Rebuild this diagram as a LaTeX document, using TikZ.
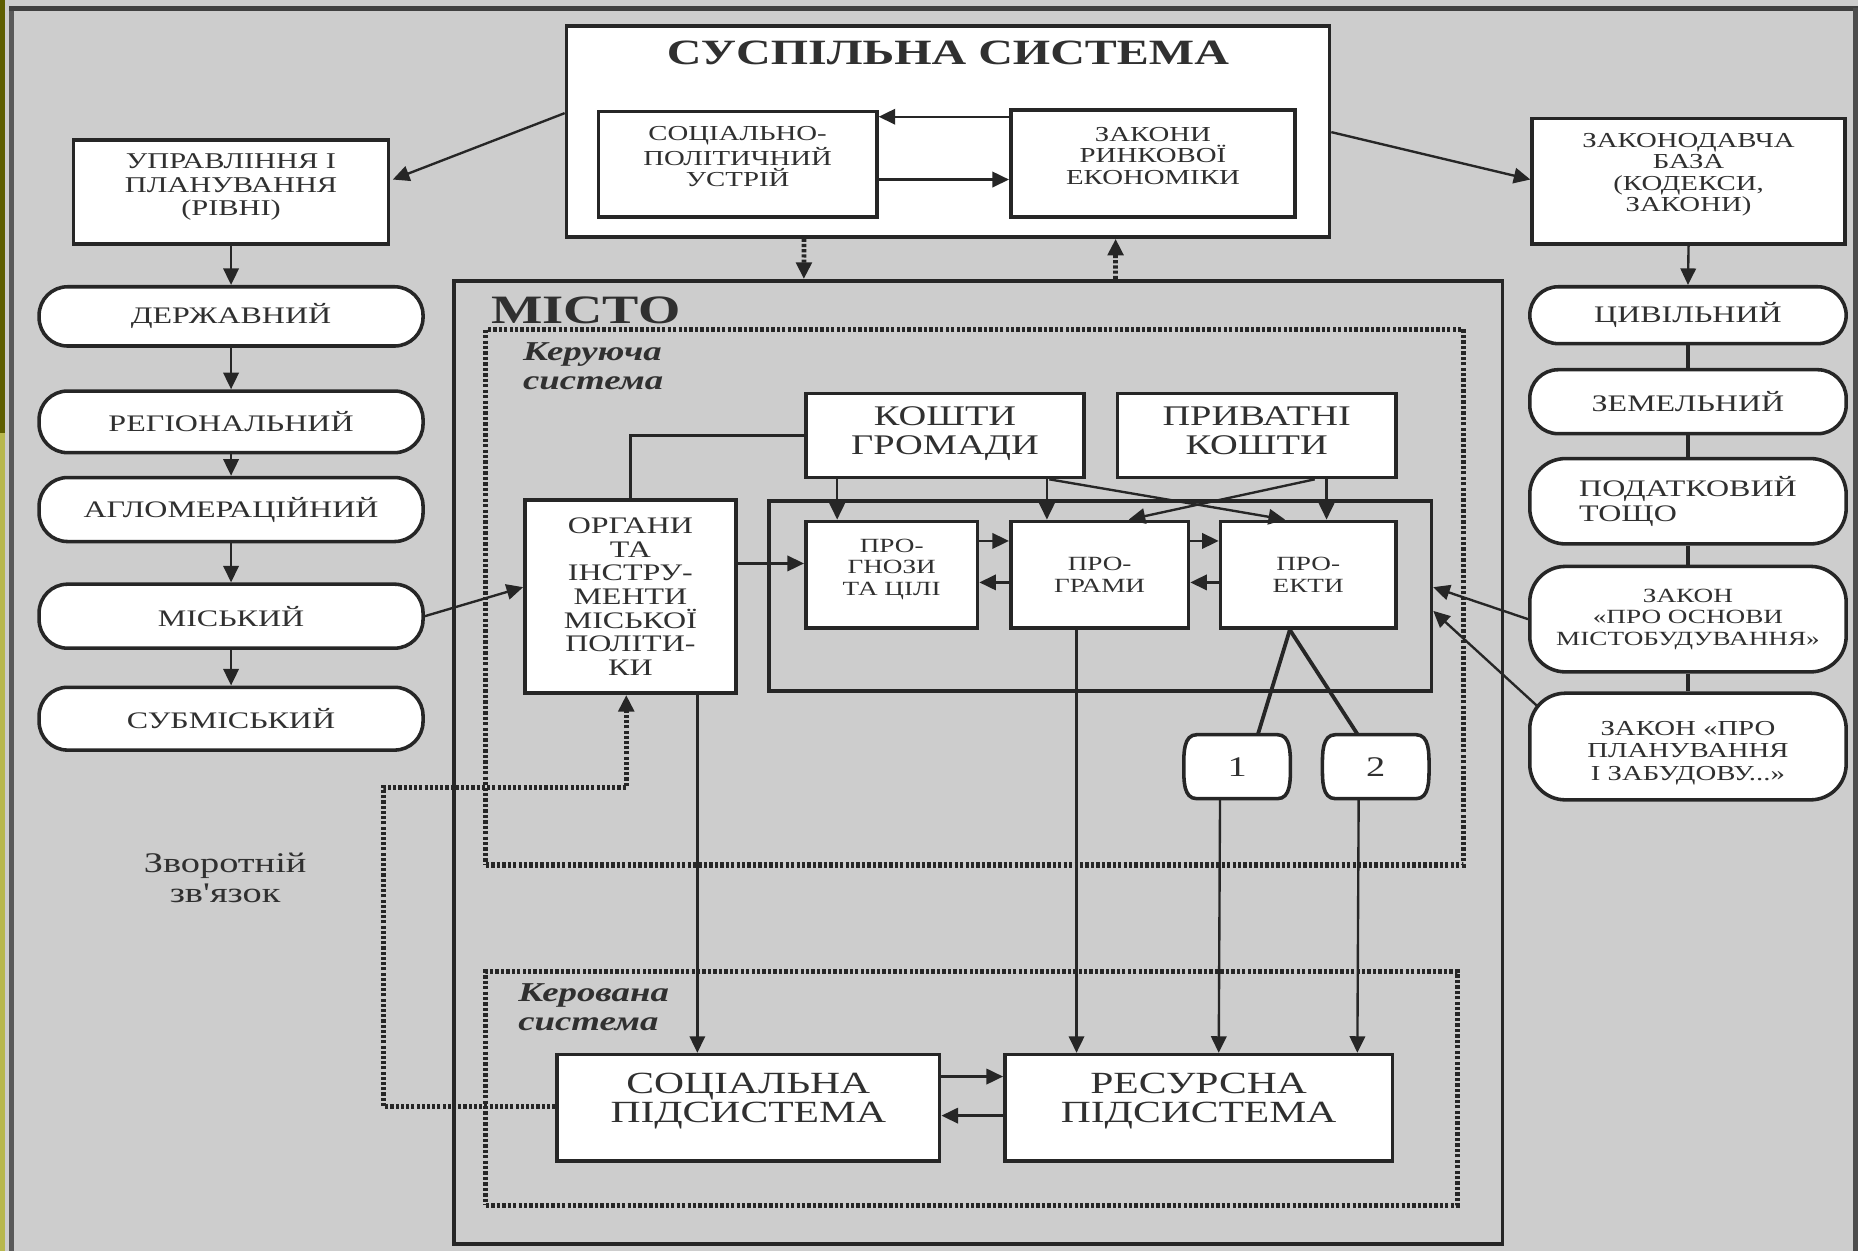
\documentclass[tikz,border=0pt]{standalone}
\usepackage{fontspec}
\setmainfont{Liberation Serif}[FakeStretch=1.35]
\usetikzlibrary{arrows.meta,calc}
\definecolor{bg}{HTML}{CDCDCD}
\definecolor{lc}{HTML}{262626}
\definecolor{tc}{HTML}{303030}
\definecolor{olivedark}{HTML}{5E5E00}
\definecolor{olivelight}{HTML}{B8B84E}
\newcommand\myfs[2]{\fontsize{#1}{#2}\selectfont}
\tikzset{
  sz/.style 2 args={minimum width=#1*0.5pt, minimum height=#2*0.5pt},
  dp/.style={text depth=#1},
  box/.style={draw=lc, line width=1.5pt, fill=white, inner sep=0pt, align=center, text=tc},
  pill/.style={draw=lc, line width=1.5pt, fill=white, rounded corners=12pt, inner sep=0pt, align=center, text=tc},
  tallpill/.style={pill, rounded corners=15pt},
  grpbox/.style={draw=lc, line width=1.5pt, fill=bg, inner sep=0pt},
  frame/.style={draw=lc, line width=1.6pt, inner sep=0pt},
  dotframe/.style={draw=lc, line width=2.2pt, dash pattern=on 1.4pt off 0.9pt, inner sep=0pt},
  arr/.style={draw=lc, line width=1pt, -{Triangle[length=7pt,width=6.5pt]}},
  plain/.style={draw=lc, line width=1.5pt},
  thickline/.style={draw=lc, line width=1.6pt},
  darr/.style={draw=lc, line width=2pt, dash pattern=on 1.3pt off 0.9pt, -{Triangle[length=7pt,width=6.5pt]}},
  lbl/.style={inner sep=0pt, text=tc}
}
\begin{document}
\begin{tikzpicture}[x=0.5pt,y=-0.5pt]
% background
\fill[bg] (0,0) rectangle (1568,1056);
\useasboundingbox (0,0) rectangle (1568,1056);
\fill[olivedark] (0,0) rectangle (4.5,365);
\fill[olivelight] (0,365) rectangle (4.5,1056);
\draw[line width=2pt, draw=black!65] (10,7) -- (10,1056);
\draw[line width=2pt, draw=black!75] (8,7) -- (1568,7);
\draw[line width=2pt, draw=black!70] (1566,7) -- (1566,1056);

% top society box
\node[box, sz={644}{178}] (soc) at (800,111) {};
\node[lbl, font=\bfseries\myfs{15}{15}] (soct) at (800,45) {СУСПІЛЬНА СИСТЕМА};
\node[box, sz={235}{89}, dp=6.5pt, font=\myfs{9}{9}] (sp) at (622.5,138.5) {СОЦІАЛЬНО-\\ПОЛІТИЧНИЙ\\УСТРІЙ};
\node[box, sz={240}{90}, dp=6.5pt, font=\myfs{9}{9}] (zr) at (973,138) {ЗАКОНИ\\РИНКОВОЇ\\ЕКОНОМІКИ};
\draw[arr] ($(zr.north west)+(0,7)$) -- ($(sp.north east)+(0,6)$);
\draw[arr] ($(sp.north east)+(-3,59)$) -- ($(zr.north west)+(0,60)$);

% left column
\node[box, sz={266}{88}, dp=6pt, font=\myfs{9.5}{10}] (upr) at (195,162) {УПРАВЛІННЯ І\\ПЛАНУВАННЯ\\(РІВНІ)};
\node[pill, sz={324}{50}, font=\myfs{10}{10}] (d1) at (195,267) {ДЕРЖАВНИЙ};
\node[pill, sz={324}{52}, font=\myfs{10}{10}] (d2) at (195,356) {РЕГІОНАЛЬНИЙ};
\node[pill, sz={324}{54}, font=\myfs{10}{10}] (d3) at (195,430) {АГЛОМЕРАЦІЙНИЙ};
\node[pill, sz={324}{54}, font=\myfs{10}{10}] (d4) at (195,520) {МІСЬКИЙ};
\node[pill, sz={324}{53}, font=\myfs{10}{10}] (d5) at (195,606.5) {СУБМІСЬКИЙ};
\draw[arr] ($(soc.north west)+(0,75)$) -- ($(upr.north east)+(2,35)$);
\draw[arr] (upr.south) -- (d1.north);
\draw[arr] (d1.south) -- (d2.north);
\draw[arr] (d2.south) -- (d3.north);
\draw[arr] (d3.south) -- (d4.north);
\draw[arr] (d4.south) -- (d5.north);
\node[lbl, align=center, font=\myfs{12}{12.5}] (zv) at (190,741) {Зворотній\\зв{\addfontfeatures{Ligatures=TeXOff}'}язок};

% right column
\node[box, sz={264}{106}, dp=7.5pt, font=\myfs{9}{9}] (zb) at (1425,153) {ЗАКОНОДАВЧА\\БАЗА\\(КОДЕКСИ,\\ЗАКОНИ)};
\node[pill, sz={267}{48}, font=\myfs{10}{10}] (r1) at (1424.5,266) {ЦИВІЛЬНИЙ};
\node[pill, sz={267}{54}, font=\myfs{10}{10}] (r2) at (1424.5,339) {ЗЕМЕЛЬНИЙ};
\node[tallpill, sz={267}{72}, align=left, font=\myfs{10}{10.5}] (r3) at (1424.5,423) {ПОДАТКОВИЙ\\ТОЩО};
\node[tallpill, sz={267}{89}, font=\myfs{8.5}{9}] (r4) at (1424.5,522.5) {ЗАКОН\\«ПРО ОСНОВИ\\МІСТОБУДУВАННЯ»};
\node[tallpill, sz={267}{90}, font=\myfs{9}{9.5}] (r5) at (1424.5,630) {\rule{0pt}{11.5pt}ЗАКОН «ПРО\\ПЛАНУВАННЯ\\І ЗАБУДОВУ...»};
\draw[arr] ($(soc.north east)+(0,91)$) -- ($(zb.north west)+(0,53)$);
\draw[arr] (zb.south) -- (r1.north);
\draw[thickline] (r1.south) -- (r2.north);
\draw[thickline] (r2.south) -- (r3.north);
\draw[thickline] (r3.south) -- (r4.north);
\draw[thickline] (r4.south) -- (r5.north);

% city frame
\node[frame, sz={885}{813}] (misto) at (825.5,643.5) {};
\node[lbl, anchor=west, font=\bfseries\myfs{17}{17}] (mistot) at (414,262) {МІСТО};
\node[dotframe, sz={825}{452}] (ker1) at (822.5,504) {};
\node[dotframe, sz={820}{197}] (ker2) at (820,918.5) {};
\node[lbl, anchor=north west, align=left, font=\bfseries\itshape\myfs{11.5}{12}] (ker1t) at (441,289) {Керуюча\\система};
\node[lbl, anchor=north west, align=left, font=\bfseries\itshape\myfs{11.5}{12}] (ker2t) at (437,830) {Керована\\система};
\draw[darr] ($(soc.south west)+(202,0)$) -- ($(misto.north west)+(297,0)$);
\draw[darr] ($(misto.north west)+(560,0)$) -- ($(soc.south west)+(465,0)$);

% management system
\node[box, sz={235}{71}, dp=4pt, font=\myfs{12}{12.5}] (kg) at (797.5,367.5) {КОШТИ\\ГРОМАДИ};
\node[box, sz={235}{71}, dp=4pt, font=\myfs{12}{12.5}] (pk) at (1060.5,367.5) {ПРИВАТНІ\\КОШТИ};
\node[grpbox, sz={559}{160}] (grp) at (928.5,503) {};
\node[box, sz={145}{90}, dp=6.5pt, font=\myfs{8.5}{9}] (pz) at (752.5,485) {ПРО-\\ГНОЗИ\\ТА ЦІЛІ};
\node[box, sz={150}{90}, font=\myfs{8.5}{9}] (pg) at (928,485) {ПРО-\\ГРАМИ};
\node[box, sz={148}{90}, font=\myfs{8.5}{9}] (pr) at (1104,485) {ПРО-\\ЕКТИ};
\node[box, sz={178}{163}, font=\myfs{10}{10}] (org) at (532,503.5) {ОРГАНИ\\ТА\\ІНСТРУ-\\МЕНТИ\\МІСЬКОЇ\\ПОЛІТИ-\\КИ};

\draw[arr] ($(kg.south west)+(28,0)$) -- ($(pz.north west)+(28,0)$);
\draw[arr] ($(kg.south west)+(205,0)$) -- ($(pg.north west)+(32,0)$);
\draw[arr] ($(kg.south west)+(207,0)$) -- ($(pr.north west)+(56,0)$);
\draw[arr] ($(pk.south west)+(178,0)$) -- ($(pr.north west)+(91,0)$);
\draw[arr] ($(pk.south west)+(168,0)$) -- ($(pg.north west)+(101,0)$);
\draw[arr] ($(pz.north east)+(0,18)$) -- ($(pg.north west)+(0,18)$);
\draw[arr] ($(pg.north west)+(0,53)$) -- ($(pz.north east)+(0,53)$);
\draw[arr] ($(pg.north east)+(0,18)$) -- ($(pr.north west)+(0,18)$);
\draw[arr] ($(pr.north west)+(0,53)$) -- ($(pg.north east)+(0,53)$);
\draw[plain] (org.north) |- (kg.west);
\draw[arr] ($(org.north east)+(0,55)$) -- ($(pz.north west)+(0,37)$);
\draw[arr] (d4.east) -- ($(org.north west)+(0,75)$);
\draw[arr] (r4.west) -- ($(grp.north east)+(0,74)$);
\draw[arr] ($(r5.west)+(8,-34)$) -- ($(grp.north east)+(0,94)$);

% barrels 1 and 2
\draw[lc, line width=1.5pt, fill=white] (1010,620) -- (1078,620) to[out=0,in=90] (1089,647) to[out=-90,in=0] (1078,674) -- (1010,674) to[out=180,in=-90] (999,647) to[out=90,in=180] cycle;
\draw[lc, line width=1.5pt, fill=white] (1127,620) -- (1195,620) to[out=0,in=90] (1206,647) to[out=-90,in=0] (1195,674) -- (1127,674) to[out=180,in=-90] (1116,647) to[out=90,in=180] cycle;
\node[inner sep=0pt, sz={90}{54}, font=\myfs{12}{12}, text=tc] (b1) at (1044,647) {1};
\node[inner sep=0pt, sz={90}{54}, font=\myfs{12}{12}, text=tc] (b2) at (1161,647) {2};
\draw[thickline] ($(pr.south west)+(60,0)$) -- ($(b1.north west)+(63,0)$);
\draw[thickline] ($(pr.south west)+(60,0)$) -- ($(b2.north west)+(30,0)$);

% controlled system
\node[box, sz={323}{90}, dp=8.5pt, font=\myfs{13}{12.5}] (socp) at (631.5,935) {СОЦІАЛЬНА\\ПІДСИСТЕМА};
\node[box, sz={327}{90}, dp=8.5pt, font=\myfs{13}{12.5}] (resp) at (1011.5,935) {РЕСУРСНА\\ПІДСИСТЕМА};
\draw[arr] ($(org.south west)+(147,0)$) -- ($(socp.north west)+(120,0)$);
\draw[arr] ($(pg.south west)+(57,0)$) -- ($(resp.north west)+(62,0)$);
\draw[arr] ($(b1.south west)+(31,0)$) -- ($(resp.north west)+(182,0)$);
\draw[arr] ($(b2.south west)+(31,0)$) -- ($(resp.north west)+(299,0)$);
\draw[arr] ($(socp.north east)+(0,20)$) -- ($(resp.north west)+(0,20)$);
\draw[arr] ($(resp.north west)+(0,53)$) -- ($(socp.north east)+(0,53)$);

% feedback
\draw[darr] ($(socp.north west)+(0,45)$) -- ++(-145,0) |- ($(org.south west)+(87,78)$) -- ($(org.south west)+(87,0)$);
\end{tikzpicture}
\end{document}
